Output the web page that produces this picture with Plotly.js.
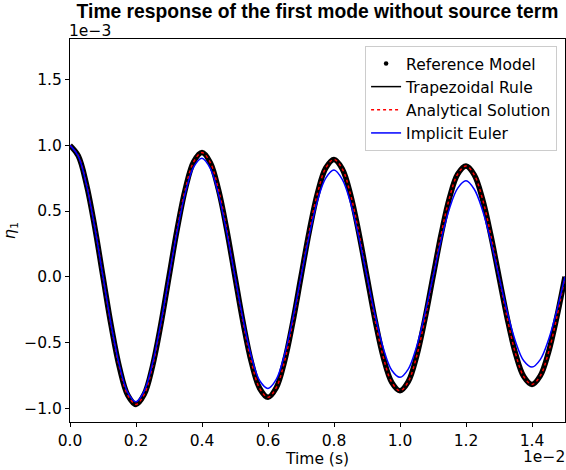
<!DOCTYPE html>
<html>
<head>
<meta charset="utf-8">
<script src="https://cdn.plot.ly/plotly-3.0.1.min.js"></script>
<style>html,body{margin:0;padding:0;background:#fff;}#chart{width:566px;height:470px;}</style>
</head>
<body>
<div id="chart"></div>
<script>
// time in units of 1e-2 s
const timeVals = [0,0.025,0.05,0.075,0.1,0.125,0.15,0.175,0.2,0.225,0.25,0.275,0.3,0.325,0.35,0.375,0.4,0.425,0.45,0.475,0.5,0.525,0.55,0.575,0.6,0.625,0.65,0.675,0.7,0.725,0.75,0.775,0.8,0.825,0.85,0.875,0.9,0.925,0.95,0.975,1.0,1.025,1.05,1.075,1.1,1.125,1.15,1.175,1.2,1.225,1.25,1.275,1.3,1.325,1.35,1.375,1.4,1.425,1.45,1.475,1.5];
// eta_1 in units of 1e-3
const referenceModel = [1.000,0.921,0.702,0.379,0,-0.376,-0.692,-0.901,-0.972,-0.895,-0.682,-0.368,0,0.365,0.673,0.876,0.945,0.870,0.663,0.358,0,-0.355,-0.654,-0.851,-0.918,-0.845,-0.645,-0.348,0,0.345,0.636,0.828,0.893,0.822,0.627,0.338,0,-0.336,-0.618,-0.804,-0.868,-0.799,-0.609,-0.329,0,0.326,0.601,0.782,0.843,0.776,0.592,0.319,0,-0.317,-0.584,-0.760,-0.820,-0.755,-0.576,-0.310,0];
const trapezoidalRule = [1.000,0.921,0.702,0.379,0,-0.376,-0.692,-0.901,-0.972,-0.895,-0.682,-0.368,0,0.365,0.673,0.876,0.945,0.870,0.663,0.358,0,-0.355,-0.654,-0.851,-0.918,-0.845,-0.645,-0.348,0,0.345,0.636,0.828,0.893,0.822,0.627,0.338,0,-0.336,-0.618,-0.804,-0.868,-0.799,-0.609,-0.329,0,0.326,0.601,0.782,0.843,0.776,0.592,0.319,0,-0.317,-0.584,-0.760,-0.820,-0.755,-0.576,-0.310,0];
const analyticalSolution = [1.000,0.921,0.702,0.379,0,-0.376,-0.692,-0.901,-0.972,-0.895,-0.682,-0.368,0,0.365,0.673,0.876,0.945,0.870,0.663,0.358,0,-0.355,-0.654,-0.851,-0.918,-0.845,-0.645,-0.348,0,0.345,0.636,0.828,0.893,0.822,0.627,0.338,0,-0.336,-0.618,-0.804,-0.868,-0.799,-0.609,-0.329,0,0.326,0.601,0.782,0.843,0.776,0.592,0.319,0,-0.317,-0.584,-0.760,-0.820,-0.755,-0.576,-0.310,0];
const implicitEuler = [1.000,0.918,0.698,0.375,0,-0.370,-0.679,-0.882,-0.952,-0.870,-0.661,-0.356,0,0.351,0.644,0.836,0.902,0.825,0.627,0.337,0,-0.333,-0.611,-0.792,-0.850,-0.782,-0.594,-0.320,0,0.315,0.579,0.751,0.812,0.741,0.564,0.303,0,-0.299,-0.549,-0.712,-0.766,-0.703,-0.534,-0.287,0,0.283,0.520,0.675,0.730,0.666,0.506,0.272,0,-0.269,-0.493,-0.640,-0.688,-0.631,-0.480,-0.258,0];

const seriesNames = ['Reference Model','Trapezoidal Rule','Analytical Solution','Implicit Euler'];
const xTickVals = [0,0.2,0.4,0.6,0.8,1.0,1.2,1.4];
const xTickText = ['0.0','0.2','0.4','0.6','0.8','1.0','1.2','1.4'];
const yTickVals = [-1,-0.5,0,0.5,1,1.5];
const yTickText = ['\u22121.0','\u22120.5','0.0','0.5','1.0','1.5'];

const FONT = 'DejaVu Sans, Verdana, sans-serif';
const traces = [
  {x: timeVals, y: referenceModel, type:'scatter', mode:'lines', name:seriesNames[0],
   line:{color:'#000000', width:5.5, shape:'spline'}, showlegend:false, legendgroup:'ref'},
  {x:[null], y:[null], type:'scatter', mode:'markers', name:seriesNames[0],
   marker:{color:'#000000', size:4.5}, legendgroup:'ref'},
  {x: timeVals, y: trapezoidalRule, type:'scatter', mode:'lines', name:seriesNames[1],
   line:{color:'#000000', width:1.5, shape:'spline'}},
  {x: timeVals, y: analyticalSolution, type:'scatter', mode:'lines', name:seriesNames[2],
   line:{color:'#ff0000', width:1.5, dash:'dot', shape:'spline'}},
  {x: timeVals, y: implicitEuler, type:'scatter', mode:'lines', name:seriesNames[3],
   line:{color:'#0000ff', width:1.5, shape:'spline'}}
];

const layout = {
  width:566, height:470,
  margin:{l:70, r:1, t:39, b:48},
  paper_bgcolor:'#ffffff', plot_bgcolor:'#ffffff',
  font:{family:FONT, size:15.5, color:'#000000'},
  title:{text:'<b>Time response of the first mode without source term</b>',
         font:{family:'Liberation Sans, Arial, sans-serif', size:19.3, color:'#000000'},
         x:0.5, xref:'paper', xanchor:'center', y:1-11.5/470, yref:'container', yanchor:'middle'},
  xaxis:{range:[0,1.5], tickvals:xTickVals, ticktext:xTickText, ticks:'outside', ticklen:4, tickwidth:1, tickcolor:'#000',
         showline:true, mirror:true, linecolor:'#000', linewidth:1, showgrid:false, zeroline:false,
         tickfont:{size:15.5, family:FONT}, title:{text:'Time (s)', font:{size:15.5, family:FONT}, standoff:2}},
  yaxis:{range:[-1.106,1.81], tickvals:yTickVals, ticktext:yTickText, ticks:'outside', ticklen:4, tickwidth:1, tickcolor:'#000',
         showline:true, mirror:true, linecolor:'#000', linewidth:1, showgrid:false, zeroline:false,
         tickfont:{size:15.5, family:FONT}, title:{text:'<i>η</i><sub>1</sub>', font:{size:16, family:FONT}, standoff:6}},
  legend:{x:0.984, xanchor:'right', y:0.982, yanchor:'top', bgcolor:'rgba(255,255,255,0.8)',
          bordercolor:'#cccccc', borderwidth:1, font:{size:15.5, family:FONT}, tracegroupgap:0},
  annotations:[
    {text:'1e\u22123', xref:'paper', yref:'paper', x:0, y:1, xanchor:'left', yanchor:'bottom', showarrow:false,
     font:{size:15.5, family:FONT}, xshift:-3, yshift:-3},
    {text:'1e\u22122', xref:'paper', yref:'paper', x:1, y:0, xanchor:'right', yanchor:'top', showarrow:false,
     font:{size:15.5, family:FONT}, xshift:2, yshift:-24}
  ],
  showlegend:true
};
Plotly.newPlot('chart', traces, layout, {displayModeBar:false, staticPlot:true});
</script>
</body>
</html>
